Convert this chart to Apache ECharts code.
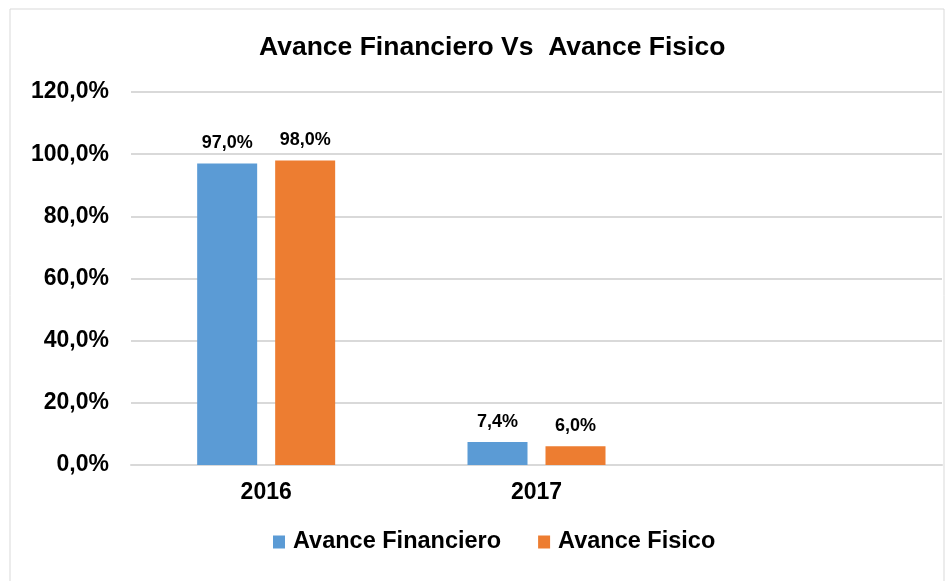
<!DOCTYPE html>
<html>
<head>
<meta charset="utf-8">
<script src="https://cdn.jsdelivr.net/npm/echarts@6/dist/echarts.min.js"></script>
<style>
  html, body { margin: 0; padding: 0; background: #fff; }
  #main { width: 952px; height: 581px; }
</style>
</head>
<body>
<div id="main"></div>
<script>
// datos
var categorias = ['2016', '2017', ''];
var avanceFinanciero = [97.0, 7.4, null];
var avanceFisico = [98.0, 6.0, null];
var ticksY = [0, 20, 40, 60, 80, 100, 120];

var fuente = '"Liberation Sans", Arial, sans-serif';

function pct(v) {
    return v.toFixed(1).replace('.', ',') + '%';
}

var chart = echarts.init(document.getElementById('main'));
var option = {
    animation: false,
    textStyle: { fontFamily: fuente },
    graphic: [{
        type: 'rect',
        shape: { x: 10, y: 9, width: 934, height: 590 },
        style: { fill: 'none', stroke: '#d9d9d9', lineWidth: 1 },
        silent: true
    }],
    title: {
        text: 'Avance Financiero Vs  Avance Fisico',
        left: 254,
        top: 29,
        textStyle: { color: '#000', fontSize: 26.5, fontWeight: 'bold', fontFamily: fuente }
    },
    legend: {
        bottom: 22,
        left: 268,
        itemWidth: 12,
        itemHeight: 13,
        itemGap: 37,
        icon: 'rect',
        textStyle: { color: '#000', fontSize: 23.5, fontWeight: 'bold', fontFamily: fuente, padding: [0, 0, 0, 3] },
        data: ['Avance Financiero', 'Avance Fisico']
    },
    grid: { left: 131, right: 10, top: 92, bottom: 116 },
    xAxis: {
        type: 'category',
        data: categorias,
        axisLine: { lineStyle: { color: '#d9d9d9', width: 2 } },
        axisTick: { show: false },
        axisLabel: { color: '#000', fontSize: 23, fontWeight: 'bold', margin: 16, fontFamily: fuente }
    },
    yAxis: {
        type: 'value',
        min: ticksY[0],
        max: ticksY[ticksY.length - 1],
        interval: 20,
        axisLine: { show: false },
        axisTick: { show: false },
        splitLine: { lineStyle: { color: '#d9d9d9', width: 2 } },
        axisLabel: {
            color: '#000', fontSize: 23, fontWeight: 'bold', margin: 22, fontFamily: fuente,
            formatter: function (v) { return pct(v); }
        }
    },
    series: [{
        name: 'Avance Financiero',
        type: 'bar',
        data: avanceFinanciero,
        barWidth: 60,
        barGap: '30%',
        itemStyle: { color: '#5B9BD5' },
        label: {
            show: true, position: 'top', distance: 11,
            color: '#000', fontSize: 18, fontWeight: 'bold', fontFamily: fuente,
            formatter: function (p) { return pct(p.value); }
        }
    }, {
        name: 'Avance Fisico',
        type: 'bar',
        data: avanceFisico,
        barWidth: 60,
        itemStyle: { color: '#ED7D31' },
        label: {
            show: true, position: 'top', distance: 11,
            color: '#000', fontSize: 18, fontWeight: 'bold', fontFamily: fuente,
            formatter: function (p) { return pct(p.value); }
        }
    }]
};
chart.setOption(option);
</script>
</body>
</html>
